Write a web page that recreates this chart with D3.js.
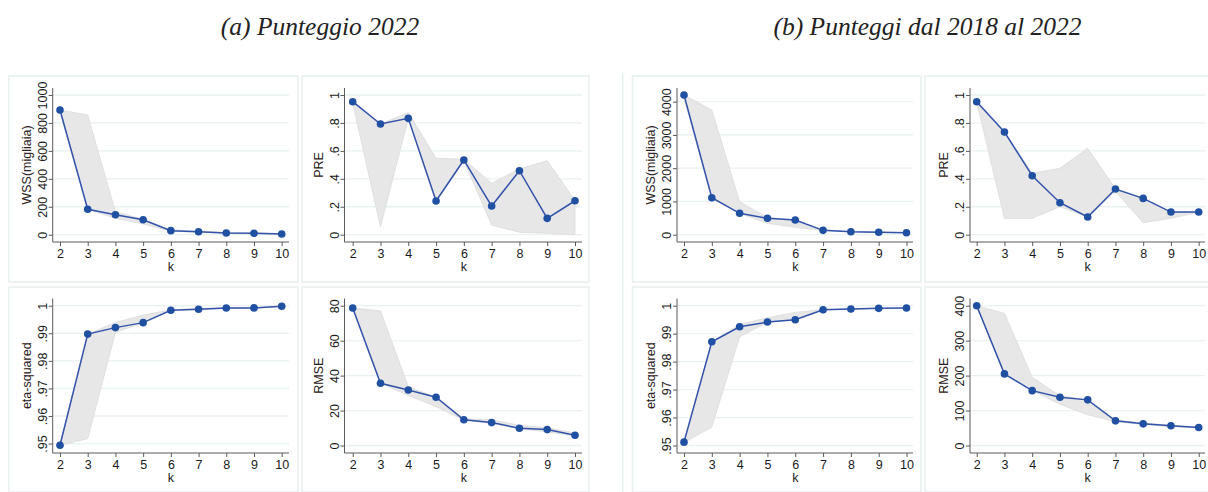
<!DOCTYPE html>
<html>
<head>
<meta charset="utf-8">
<script src="https://cdn.jsdelivr.net/npm/d3@7"></script>
<style>
  body { margin: 0; background: #fff; }
</style>
</head>
<body>
<main></main>
<script>
// number of clusters, same for every panel
const kValues = [2, 3, 4, 5, 6, 7, 8, 9, 10];

// (a) Punteggio 2022
const wssA      = [893, 182, 143, 107, 29, 21, 12, 10, 5];
const wssAHigh  = [893, 857, 165, 110, 35, 25, 15, 13, 8];
const wssALow   = [880, 182, 117, 77, 25, 18, 10, 8, 3];
const wssATicks = [0, 200, 400, 600, 800, 1000];

const preA      = [0.952, 0.792, 0.833, 0.241, 0.535, 0.205, 0.458, 0.117, 0.243];
const preAHigh  = [0.955, 0.792, 0.874, 0.547, 0.54, 0.368, 0.47, 0.53, 0.245];
const preALow   = [0.94, 0.057, 0.833, 0.241, 0.53, 0.069, 0.017, 0.01, 0.0];
const preATicks = [0, 0.2, 0.4, 0.6, 0.8, 1];

const etaA      = [0.9494, 0.9897, 0.99205, 0.99386, 0.99833, 0.9987, 0.99917, 0.9992, 0.99978];
const etaAHigh  = [0.9496, 0.9897, 0.9939, 0.9966, 0.9985, 0.9990, 0.9993, 0.9993, 0.9998];
const etaALow   = [0.9493, 0.9518, 0.9903, 0.9938, 0.9983, 0.9986, 0.9991, 0.9992, 0.9997];
const etaATicks = [0.95, 0.96, 0.97, 0.98, 0.99, 1];

const rmseA      = [78.7, 35.6, 31.8, 27.6, 14.7, 13.1, 9.9, 9.1, 5.9];
const rmseAHigh  = [78.7, 77.1, 33.7, 27.6, 15.3, 14.7, 11.5, 10.2, 7.2];
const rmseALow   = [78.5, 35.6, 28.6, 22.3, 14.5, 12.6, 9.5, 7.8, 5.5];
const rmseATicks = [0, 20, 40, 60, 80];

// (b) Punteggi dal 2018 al 2022
const wssB      = [4201, 1113, 643, 493, 442, 131, 90, 72, 60];
const wssBHigh  = [4201, 3750, 993, 520, 442, 140, 95, 78, 65];
const wssBLow   = [4100, 1113, 643, 342, 222, 125, 85, 68, 55];
const wssBTicks = [0, 1000, 2000, 3000, 4000];

const preB      = [0.952, 0.735, 0.422, 0.229, 0.127, 0.327, 0.26, 0.162, 0.162];
const preBHigh  = [0.952, 0.735, 0.44, 0.475, 0.618, 0.33, 0.26, 0.162, 0.162];
const preBLow   = [0.95, 0.117, 0.117, 0.2, 0.127, 0.31, 0.086, 0.117, 0.16];
const preBTicks = [0, 0.2, 0.4, 0.6, 0.8, 1];

const etaB      = [0.9512, 0.98708, 0.99246, 0.99415, 0.99498, 0.99856, 0.9988, 0.99906, 0.9992];
const etaBHigh  = [0.9515, 0.98708, 0.9933, 0.9957, 0.9976, 0.9987, 0.9989, 0.9991, 0.9992];
const etaBLow   = [0.9510, 0.9566, 0.9889, 0.9940, 0.9950, 0.9985, 0.9987, 0.9990, 0.9991];
const etaBTicks = [0.95, 0.96, 0.97, 0.98, 0.99, 1];

const rmseB      = [400, 204.9, 157, 138, 130.6, 70.6, 62, 56.3, 51.4];
const rmseBHigh  = [400, 378, 195, 142, 131, 73, 64, 58, 53];
const rmseBLow   = [398, 204.9, 157, 118, 88, 68, 60, 54, 50];
const rmseBTicks = [0, 100, 200, 300, 400];

const titles = ["(a) Punteggio 2022", "(b) Punteggi dal 2018 al 2022"];

const width = 1208, height = 492;
const lineColor = "#3353ab";
const dotColor = "#2050a2";
const gridColor = "#e9f1f1";
const frameColor = "#e7efef";
const axisColor = "#5a5a5a";
const sans = "'Liberation Sans', Arial, sans-serif";

// rows: top = WSS/PRE, bottom = eta/RMSE
const rows = [
    { top: 88, bottom: 242, hi: 95, lo: 234.7 },
    { top: 298.5, bottom: 453, hi: 305.7, lo: 445.5 }
];

// columns: y axis position, x of k=2 and k=10, right edge of plot
const cols = [
    { axis: 52.7, k0: 60, k1: 281.7, right: 289 },
    { axis: 344.5, k0: 352.7, k1: 575, right: 582 },
    { axis: 677, k0: 684, k1: 906.5, right: 913 },
    { axis: 970, k0: 976.7, k1: 1198.7, right: 1205 }
];

const panels = [
    { col: 0, row: 0, label: "WSS(migliaia)", values: wssA, high: wssAHigh, low: wssALow, ticks: wssATicks },
    { col: 1, row: 0, label: "PRE", values: preA, high: preAHigh, low: preALow, ticks: preATicks },
    { col: 0, row: 1, label: "eta-squared", values: etaA, high: etaAHigh, low: etaALow, ticks: etaATicks },
    { col: 1, row: 1, label: "RMSE", values: rmseA, high: rmseAHigh, low: rmseALow, ticks: rmseATicks },
    { col: 2, row: 0, label: "WSS(migliaia)", values: wssB, high: wssBHigh, low: wssBLow, ticks: wssBTicks },
    { col: 3, row: 0, label: "PRE", values: preB, high: preBHigh, low: preBLow, ticks: preBTicks },
    { col: 2, row: 1, label: "eta-squared", values: etaB, high: etaBHigh, low: etaBLow, ticks: etaBTicks },
    { col: 3, row: 1, label: "RMSE", values: rmseB, high: rmseBHigh, low: rmseBLow, ticks: rmseBTicks }
];

// Stata style labels: 0.2 -> .2
function stataFmt(v) {
    return String(+v.toFixed(4)).replace(/^0\./, ".");
}

const svg = d3.select("main")
    .append("svg")
    .attr("width", width)
    .attr("height", height)
    .style("display", "block");

svg.append("rect")
    .attr("width", width)
    .attr("height", height)
    .attr("fill", "#fff");

// panel frames
const frames = [
    [9, 76, 298, 282], [302, 76, 589, 282], [9, 287, 298, 492], [302, 287, 589, 492],
    [632.5, 76, 921, 282], [925, 76, 1212, 282], [632.5, 287, 921, 492], [925, 287, 1212, 492]
];
svg.append("g").selectAll("rect")
    .data(frames)
    .join("rect")
    .attr("x", d => d[0])
    .attr("y", d => d[1])
    .attr("width", d => d[2] - d[0])
    .attr("height", d => d[3] - d[1])
    .attr("fill", "none")
    .attr("stroke", frameColor)
    .attr("stroke-width", 1.5);

svg.append("line")
    .attr("x1", 622.7).attr("x2", 622.7)
    .attr("y1", 72.7).attr("y2", height)
    .attr("stroke", frameColor)
    .attr("stroke-width", 1.5);

// titles
svg.selectAll("text.title")
    .data(titles)
    .join("text")
    .attr("class", "title")
    .attr("x", (d, i) => i === 0 ? 320 : 927.5)
    .attr("y", 35)
    .attr("text-anchor", "middle")
    .attr("font-family", "'Liberation Serif', 'DejaVu Serif', serif")
    .attr("font-style", "italic")
    .attr("font-size", 25.5)
    .attr("fill", "#222")
    .text(d => d);

panels.forEach(p => drawPanel(p));

function drawPanel(p) {
    const c = cols[p.col], r = rows[p.row];
    const all = p.ticks.concat(p.values, p.high, p.low);

    const x = d3.scaleLinear().domain([2, 10]).range([c.k0, c.k1]);
    const y = d3.scaleLinear().domain([d3.min(all), d3.max(all)]).range([r.lo, r.hi]);

    const g = svg.append("g");

    // grid
    g.append("g")
        .selectAll("line")
        .data(p.ticks)
        .join("line")
        .attr("x1", c.axis)
        .attr("x2", c.right)
        .attr("y1", d => y(d))
        .attr("y2", d => y(d))
        .attr("stroke", gridColor)
        .attr("stroke-width", 1.3);

    // min/max band
    const area = d3.area()
        .x((d, i) => x(kValues[i]))
        .y0((d, i) => y(p.low[i]))
        .y1((d, i) => y(p.high[i]));

    g.append("path")
        .datum(p.values)
        .attr("d", area)
        .attr("fill", "#e7e7e7")
        .attr("stroke", "#dadada")
        .attr("stroke-width", 0.8);

    // y axis
    const yAxis = g.append("g")
        .attr("transform", `translate(${c.axis},0)`)
        .call(d3.axisLeft(y).tickValues(p.ticks).tickSize(4).tickFormat(stataFmt));
    yAxis.select(".domain").remove();
    yAxis.selectAll(".tick line").attr("stroke", axisColor);
    yAxis.selectAll(".tick text")
        .attr("x", null)
        .attr("dy", null)
        .attr("transform", "translate(-10,0) rotate(-90)")
        .attr("text-anchor", "middle")
        .attr("dominant-baseline", "central")
        .attr("font-family", sans)
        .attr("font-size", 12.5)
        .attr("fill", "#1a1a1a");

    // x axis
    const xAxis = g.append("g")
        .attr("transform", `translate(0,${r.bottom})`)
        .call(d3.axisBottom(x).tickValues(kValues).tickSize(4).tickSizeOuter(0));
    xAxis.select(".domain").remove();
    xAxis.selectAll(".tick line").attr("stroke", axisColor);
    xAxis.selectAll(".tick text")
        .attr("y", 7)
        .attr("font-family", sans)
        .attr("font-size", 12.5)
        .attr("fill", "#1a1a1a");

    // axis lines
    g.append("line")
        .attr("x1", c.axis).attr("x2", c.axis)
        .attr("y1", r.top).attr("y2", r.bottom)
        .attr("stroke", axisColor);
    g.append("line")
        .attr("x1", c.axis).attr("x2", c.right)
        .attr("y1", r.bottom).attr("y2", r.bottom)
        .attr("stroke", axisColor);

    // axis titles
    g.append("text")
        .attr("transform", `translate(${c.axis - 26},${(r.top + r.bottom) / 2}) rotate(-90)`)
        .attr("text-anchor", "middle")
        .attr("dominant-baseline", "central")
        .attr("font-family", sans)
        .attr("font-size", 12.5)
        .attr("fill", "#2a2020")
        .text(p.label);

    g.append("text")
        .attr("x", (c.k0 + c.k1) / 2)
        .attr("y", r.bottom + 25)
        .attr("text-anchor", "middle")
        .attr("dominant-baseline", "central")
        .attr("font-family", sans)
        .attr("font-size", 12.5)
        .attr("fill", "#1a1a1a")
        .text("k");

    // line and markers
    const line = d3.line()
        .x((d, i) => x(kValues[i]))
        .y(d => y(d));

    g.append("path")
        .datum(p.values)
        .attr("d", line)
        .attr("fill", "none")
        .attr("stroke", lineColor)
        .attr("stroke-width", 1.5);

    g.append("g")
        .selectAll("circle")
        .data(p.values)
        .join("circle")
        .attr("cx", (d, i) => x(kValues[i]))
        .attr("cy", d => y(d))
        .attr("r", 3.8)
        .attr("fill", dotColor);
}
</script>
</body>
</html>
